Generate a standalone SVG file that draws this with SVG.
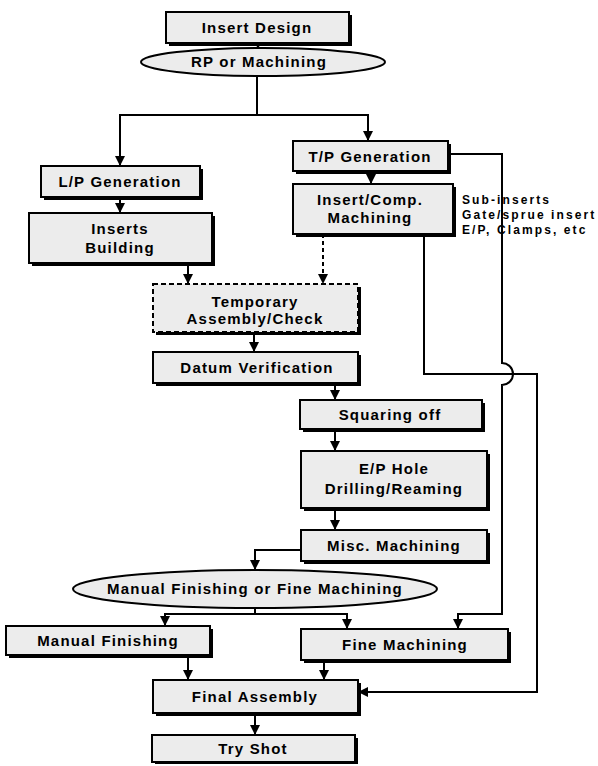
<svg xmlns="http://www.w3.org/2000/svg" width="598" height="766" viewBox="0 0 598 766">
<style>
.box{fill:#ececec;stroke:#000;stroke-width:2}
.dbox{fill:#ececec;stroke:#000;stroke-width:2;stroke-dasharray:5 3}
.sh{fill:#000}
.t{font-family:"Liberation Sans",Arial,sans-serif;font-weight:bold;font-size:15px;letter-spacing:1.2px;text-anchor:middle;fill:#000}
.s{font-family:"Liberation Sans",Arial,sans-serif;font-weight:bold;font-size:12px;letter-spacing:2.1px;fill:#000}
.c{fill:none;stroke:#000;stroke-width:2;marker-end:url(#ah)}
.cd{fill:none;stroke:#000;stroke-width:2;stroke-dasharray:4 3;marker-end:url(#ah)}
</style>
<defs>
<marker id="ah" viewBox="0 0 10 10" refX="10" refY="5" markerUnits="userSpaceOnUse" markerWidth="11" markerHeight="10" orient="auto">
<path d="M0,0 L10,5 L0,10 z" fill="#000"/>
</marker>
</defs>
<rect width="598" height="766" fill="#fff"/>
<g id="connectors">
<path class="c" d="M258,43 V49"/>
<path class="c" d="M257,76 V115 H120 V166"/>
<path class="c" d="M257,115 H368 V141"/>
<path class="c" d="M120,197 V213"/>
<path class="c" d="M188,263 V284"/>
<path class="c" d="M371,171 V184"/>
<path class="cd" d="M323,234 V284"/>
<path class="c" d="M254,332 V352"/>
<path class="c" d="M335,383 V400"/>
<path class="c" d="M335,429 V451"/>
<path class="c" d="M335,508 V530"/>
<path class="c" d="M301,550 H255 V570"/>
<path class="c" d="M255,608 V614 H165 V626"/>
<path class="c" d="M255,614 H347 V629"/>
<path class="c" d="M448,154 H502 V363 A11,11 0 0 1 502,385 V614 H458 V629"/>
<path class="c" d="M424,234 V374 H537 V692 H358"/>
<path class="c" d="M188,655 V680"/>
<path class="c" d="M324,660 V680"/>
<path class="c" d="M255,713 V735"/>
</g>
<g id="insert-design">
<rect class="sh" x="169" y="15" width="183" height="31"/>
<rect class="box" x="166" y="12" width="183" height="31"/>
<text class="t" x="257" y="33">Insert Design</text>
</g>
<g id="rp-or-machining">
<ellipse cx="263" cy="62" rx="122" ry="14" fill="#ececec" stroke="#000" stroke-width="2"/>
<text class="t" x="259" y="67">RP or Machining</text>
</g>
<g id="lp-generation">
<rect class="sh" x="44" y="169" width="159" height="31"/>
<rect class="box" x="41" y="166" width="159" height="31"/>
<text class="t" x="120" y="187">L/P Generation</text>
</g>
<g id="inserts-building">
<rect class="sh" x="32" y="216" width="183" height="50"/>
<rect class="box" x="29" y="213" width="183" height="50"/>
<text class="t" x="120" y="234">Inserts</text>
<text class="t" x="120" y="253">Building</text>
</g>
<g id="tp-generation">
<rect class="sh" x="296" y="144" width="155" height="30"/>
<rect class="box" x="293" y="141" width="155" height="30"/>
<text class="t" x="370" y="162">T/P Generation</text>
</g>
<g id="insert-comp-machining">
<rect class="sh" x="296" y="187" width="160" height="50"/>
<rect class="box" x="293" y="184" width="160" height="50"/>
<text class="t" x="370" y="205">Insert/Comp.</text>
<text class="t" x="370" y="223">Machining</text>
</g>
<g id="side-note">
<text class="s" x="462" y="204">Sub-inserts</text>
<text class="s" x="462" y="219">Gate/sprue insert</text>
<text class="s" x="462" y="234">E/P, Clamps, etc</text>
</g>
<g id="temporary-assembly">
<rect class="sh" x="156" y="287" width="205" height="48"/>
<rect class="dbox" x="153" y="284" width="205" height="48"/>
<text class="t" x="255" y="307">Temporary</text>
<text class="t" x="255" y="324">Assembly/Check</text>
</g>
<g id="datum-verification">
<rect class="sh" x="156" y="355" width="205" height="31"/>
<rect class="box" x="153" y="352" width="205" height="31"/>
<text class="t" x="257" y="373">Datum Verification</text>
</g>
<g id="squaring-off">
<rect class="sh" x="303" y="403" width="182" height="29"/>
<rect class="box" x="300" y="400" width="182" height="29"/>
<text class="t" x="390" y="420">Squaring off</text>
</g>
<g id="ep-hole">
<rect class="sh" x="304" y="454" width="186" height="57"/>
<rect class="box" x="301" y="451" width="186" height="57"/>
<text class="t" x="394" y="474">E/P Hole</text>
<text class="t" x="394" y="494">Drilling/Reaming</text>
</g>
<g id="misc-machining">
<rect class="sh" x="304" y="533" width="186" height="31"/>
<rect class="box" x="301" y="530" width="186" height="31"/>
<text class="t" x="394" y="551">Misc. Machining</text>
</g>
<g id="manual-or-fine">
<ellipse cx="255" cy="589" rx="182" ry="19" fill="#ececec" stroke="#000" stroke-width="2"/>
<text class="t" x="255" y="594">Manual Finishing or Fine Machining</text>
</g>
<g id="manual-finishing">
<rect class="sh" x="9" y="629" width="204" height="29"/>
<rect class="box" x="6" y="626" width="204" height="29"/>
<text class="t" x="108" y="646">Manual Finishing</text>
</g>
<g id="fine-machining">
<rect class="sh" x="304" y="632" width="207" height="31"/>
<rect class="box" x="301" y="629" width="207" height="31"/>
<text class="t" x="405" y="650">Fine Machining</text>
</g>
<g id="final-assembly">
<rect class="sh" x="156" y="683" width="205" height="33"/>
<rect class="box" x="153" y="680" width="205" height="33"/>
<text class="t" x="255" y="702">Final Assembly</text>
</g>
<g id="try-shot">
<rect class="sh" x="155" y="738" width="203" height="26"/>
<rect class="box" x="152" y="735" width="203" height="27"/>
<text class="t" x="253" y="754">Try Shot</text>
</g>
</svg>
